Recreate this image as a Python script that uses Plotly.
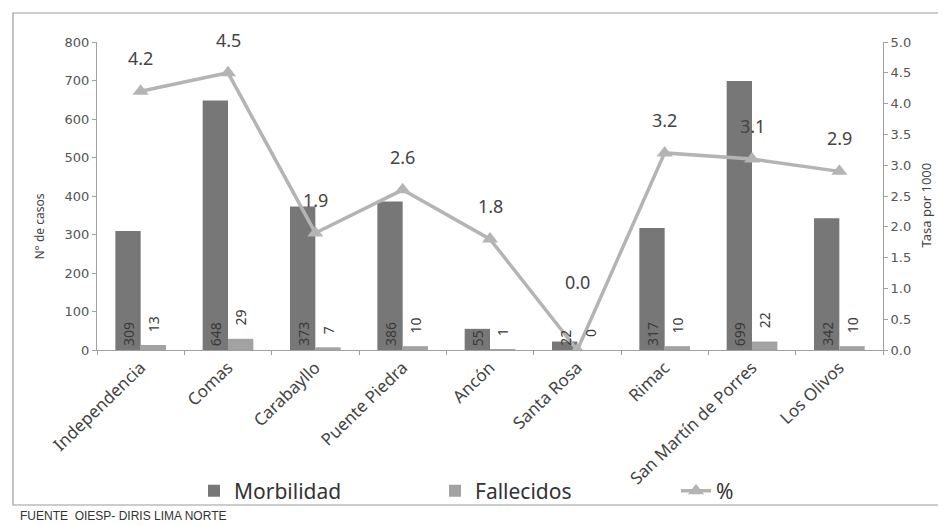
import plotly.graph_objects as go

categories = ["Independencia", "Comas", "Carabayllo", "Puente Piedra", "Ancón",
              "Santa Rosa", "Rimac", "San Martín de Porres", "Los Olivos"]
morbilidad = [309, 648, 373, 386, 55, 22, 317, 699, 342]
fallecidos = [13, 29, 7, 10, 1, 0, 10, 22, 10]
tasa = [4.2, 4.5, 1.9, 2.6, 1.8, 0.0, 3.2, 3.1, 2.9]
left_ticks = list(range(0, 801, 100))
right_ticks = [0.0, 0.5, 1.0, 1.5, 2.0, 2.5, 3.0, 3.5, 4.0, 4.5, 5.0]

# page body has an 8px default margin; figure sized to fit the 946x525 window
OFF = 8
W, H = 946 - OFF, 525 - OFF
ML, MR, MT, MB = 97 - OFF, 63, 42 - OFF, 175
PW, PH = W - ML - MR, H - MT - MB

def px_x(p):  # screen pixel -> paper
    return (p - OFF - ML) / PW

def px_y(p):
    return (H - MB - (p - OFF)) / PH

xs = list(range(len(categories)))
FONT = "Noto Sans"
C_MORB = "#777777"
C_FALL = "#a2a2a2"
C_LINE = "#b4b4b4"

fig = go.Figure()
fig.add_trace(go.Bar(x=xs, y=morbilidad, name="Morbilidad", marker_color=C_MORB,
                     marker_line_width=0))
fig.add_trace(go.Bar(x=xs, y=fallecidos, name="Fallecidos", marker_color=C_FALL,
                     marker_line_width=0))
fig.add_trace(go.Scatter(x=xs, y=tasa, name="%", yaxis="y2", mode="lines+markers",
                         line=dict(color=C_LINE, width=3.5),
                         marker=dict(symbol="triangle-up", size=14, color=C_LINE)))

annotations = []
bw = (1 - 0.42) / 2
for i, v in enumerate(morbilidad):
    annotations.append(dict(x=i - bw / 2, y=0, xref="x", yref="y", text=str(v),
                            textangle=-90, showarrow=False, yanchor="bottom",
                            xanchor="center", yshift=2,
                            font=dict(family=FONT, size=14, color="#3a3a3a")))
for i, v in enumerate(fallecidos):
    annotations.append(dict(x=i + bw / 2, y=v, xref="x", yref="y", text=str(v),
                            textangle=-90, showarrow=False, yanchor="bottom",
                            xanchor="center", yshift=11,
                            font=dict(family=FONT, size=14, color="#3a3a3a")))
for i, v in enumerate(tasa):
    annotations.append(dict(x=i, y=v, xref="x", yref="y2", text=f"{v:.1f}",
                            showarrow=False, yanchor="middle", xanchor="center",
                            yshift=(68 if v == 0 else 33),
                            font=dict(family=FONT, size=18, color="#444444")))

annotations.append(dict(x=px_x(28), y=px_y(227), xref="paper", yref="paper",
                        text="N° de casos", textangle=-90, showarrow=False,
                        font=dict(family=FONT, size=12, color="#444444")))
annotations.append(dict(x=px_x(936), y=px_y(250), xref="paper", yref="paper",
                        text="Tasa por 1000", textangle=-90, showarrow=False,
                        font=dict(family=FONT, size=13, color="#444444")))
annotations.append(dict(x=px_x(18), y=px_y(516), xref="paper", yref="paper",
                        text="FUENTE  OIESP- DIRIS LIMA NORTE", showarrow=False,
                        xanchor="left", yanchor="middle",
                        font=dict(family="Liberation Sans", size=12, color="#333333")))

shapes = [dict(type="rect", xref="paper", yref="paper",
               x0=px_x(13), x1=px_x(960), y0=px_y(505), y1=px_y(13),
               line=dict(color="#999999", width=1.2))]

fig.update_layout(
    width=W, height=H,
    margin=dict(l=ML, r=MR, t=MT, b=MB, autoexpand=False),
    paper_bgcolor="white", plot_bgcolor="white",
    barmode="group", bargap=0.42, bargroupgap=0,
    showlegend=True,
    legend=dict(orientation="h", x=px_x(194), y=px_y(491), xanchor="left",
                yanchor="middle", entrywidth=196, entrywidthmode="pixels",
                bgcolor="rgba(0,0,0,0)",
                font=dict(family=FONT, size=21, color="#333333"),
                traceorder="normal"),
    xaxis=dict(range=[-0.5, len(categories) - 0.5], tickmode="array", tickvals=xs,
               ticktext=categories, tickangle=-44, ticks="", showgrid=False,
               showline=True, linecolor="#a0a0a0", linewidth=1, zeroline=False,
               automargin=False,
               tickfont=dict(family=FONT, size=17, color="#444444"),
               minor=dict(tick0=-0.5, dtick=1, ticks="outside", ticklen=4,
                          tickcolor="#a0a0a0", showgrid=False)),
    yaxis=dict(range=[0, 800], tickmode="array", tickvals=left_ticks, showgrid=False,
               showline=True, linecolor="#a0a0a0", ticks="outside", ticklen=4,
               tickcolor="#a0a0a0", zeroline=False, automargin=False,
               tickfont=dict(family="DejaVu Sans", size=13, color="#555555")),
    yaxis2=dict(range=[0, 5], overlaying="y", side="right", tickmode="array",
                tickvals=right_ticks, tickformat=".1f", showgrid=False, showline=True,
                linecolor="#a0a0a0", ticks="outside", ticklen=4, tickcolor="#a0a0a0",
                zeroline=False, automargin=False,
                tickfont=dict(family="DejaVu Sans", size=13, color="#555555")),
    annotations=annotations,
    shapes=shapes,
)

fig.write_html("out.html")
